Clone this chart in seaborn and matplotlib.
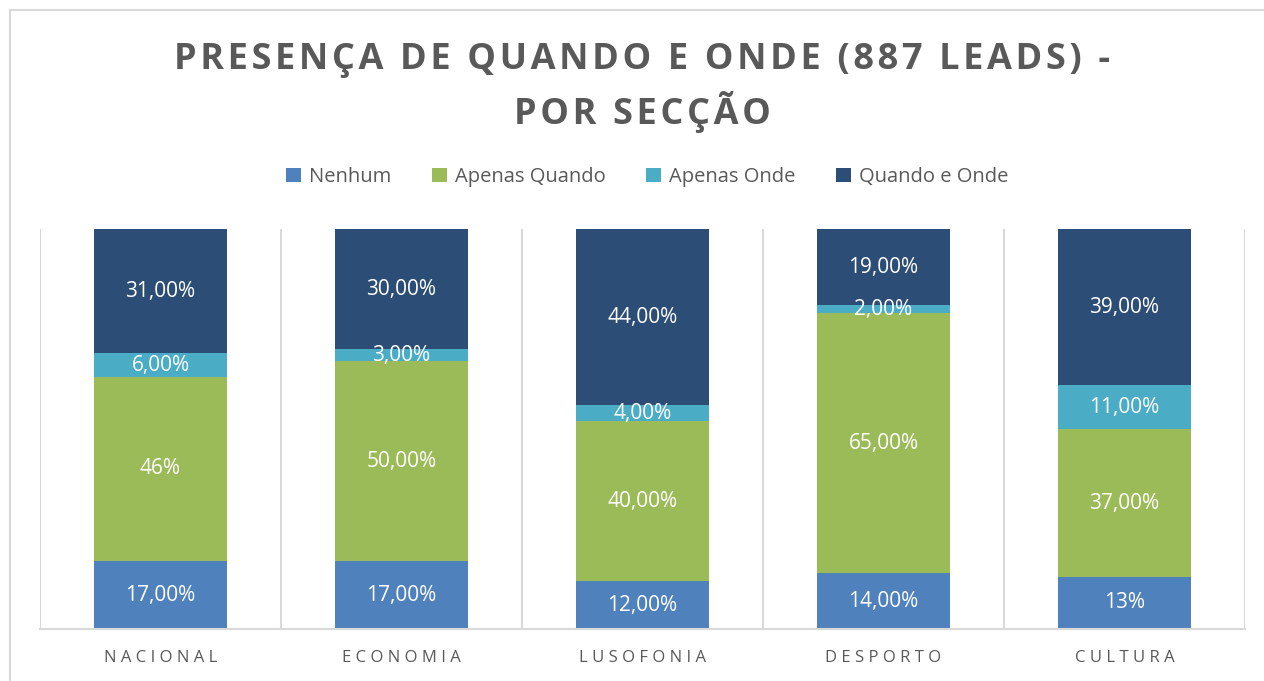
import matplotlib
matplotlib.use("Agg")
import matplotlib.pyplot as plt
import numpy as np
import seaborn as sns
from matplotlib.patches import Rectangle

# dados
seccoes = ["NACIONAL", "ECONOMIA", "LUSOFONIA", "DESPORTO", "CULTURA"]
series = ["Nenhum", "Apenas Quando", "Apenas Onde", "Quando e Onde"]
nenhum = [0.17, 0.17, 0.12, 0.14, 0.13]
apenas_quando = [0.46, 0.50, 0.40, 0.65, 0.37]
apenas_onde = [0.06, 0.03, 0.04, 0.02, 0.11]
quando_onde = [0.31, 0.30, 0.44, 0.19, 0.39]
rotulos = [
    ["17,00%", "17,00%", "12,00%", "14,00%", "13%"],
    ["46%", "50,00%", "40,00%", "65,00%", "37,00%"],
    ["6,00%", "3,00%", "4,00%", "2,00%", "11,00%"],
    ["31,00%", "30,00%", "44,00%", "19,00%", "39,00%"],
]
cores = ["#4F81BD", "#9BBB59", "#4BACC6", "#2C4D75"]
titulo = ["PRESENÇA DE QUANDO E ONDE (887 LEADS) -", "POR SECÇÃO"]

sns.set_style("white")
plt.rcParams["font.family"] = ["Open Sans", "DejaVu Sans"]

fig = plt.figure(figsize=(12.64, 6.81), dpi=100)
W, H = 1264, 681
ax = fig.add_axes([40 / W, 1 - 629 / H, (1245 - 40) / W, (629 - 229) / H])

# moldura do gráfico
fig.patches.append(Rectangle((10 / W, -0.1), 1.2, 1 - 10 / H + 0.1, transform=fig.transFigure,
                             fill=False, edgecolor="#D9D9D9", linewidth=1.5))

valores = [nenhum, apenas_quando, apenas_onde, quando_onde]
base = np.zeros(len(seccoes))
for nome, vals, cor, rot in zip(series, valores, cores, rotulos):
    sns.barplot(x=seccoes, y=vals, bottom=base, color=cor, width=0.556, ax=ax,
                label=nome, saturation=1, linewidth=0)
    cont = ax.containers[-1]
    ax.bar_label(cont, labels=rot, label_type="center", color="white", fontsize=15)
    base = base + np.array(vals)

ax.set_xlim(-0.5, 4.5)
ax.set_ylim(0, 1)
ax.vlines(np.arange(-0.5, 5, 1), 0, 1, color="#D9D9D9", linewidth=1.5, zorder=0)
for s in ["top", "right", "left"]:
    ax.spines[s].set_visible(False)
ax.spines["bottom"].set_color("#D9D9D9")
ax.spines["bottom"].set_linewidth(1.5)
ax.set_yticks([])
ax.set_xticks(range(len(seccoes)))
ax.set_xticklabels([" ".join(s) for s in seccoes], fontsize=12, color="#595959")
ax.tick_params(axis="x", length=0, pad=15)
ax.set_xlabel("")
ax.set_ylabel("")

ax.legend(loc="center", bbox_to_anchor=(647 / W, 1 - 177 / H), bbox_transform=fig.transFigure,
          ncol=4, frameon=False, fontsize=14.5, labelcolor="#595959", handlelength=0.75,
          handleheight=0.75, columnspacing=2.0, handletextpad=0.4)

# espaçamento entre letras do título
esp = "\u200a"
for linha, ypix in zip(titulo, [60, 112]):
    fig.text(642 / W, 1 - ypix / H, esp.join(linha), ha="center", va="center",
             fontsize=26, fontweight="bold", color="#595959")

fig.savefig("out.png", dpi=100)
